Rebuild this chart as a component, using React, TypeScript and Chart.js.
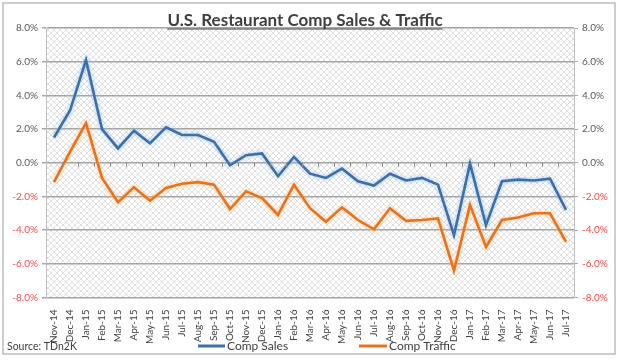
import React, { useEffect, useRef } from 'react';
import { Chart, registerables } from 'chart.js';
Chart.register(...registerables);

const categories = [
  'Nov-14', 'Dec-14', 'Jan-15', 'Feb-15', 'Mar-15', 'Apr-15', 'May-15', 'Jun-15', 'Jul-15', 'Aug-15', 'Sep-15', 'Oct-15', 'Nov-15', 'Dec-15',
  'Jan-16', 'Feb-16', 'Mar-16', 'Apr-16', 'May-16', 'Jun-16', 'Jul-16', 'Aug-16', 'Sep-16', 'Oct-16', 'Nov-16', 'Dec-16',
  'Jan-17', 'Feb-17', 'Mar-17', 'Apr-17', 'May-17', 'Jun-17', 'Jul-17',
];
const compSales = [
  1.5, 3.1, 6.1, 2.0, 0.85, 1.9, 1.15, 2.1, 1.65, 1.65, 1.25, -0.15, 0.45, 0.55,
  -0.8, 0.35, -0.65, -0.9, -0.35, -1.1, -1.35, -0.65, -1.05, -0.9, -1.3, -4.3,
  -0.05, -3.7, -1.1, -1.0, -1.05, -0.95, -2.8,
];
const compTraffic = [
  -1.15, 0.65, 2.35, -0.9, -2.35, -1.45, -2.25, -1.5, -1.25, -1.15, -1.3, -2.75, -1.7, -2.1,
  -3.1, -1.3, -2.7, -3.5, -2.65, -3.4, -3.95, -2.7, -3.45, -3.4, -3.3, -6.4,
  -2.5, -5.0, -3.4, -3.25, -3.0, -3.0, -4.7,
];
const yMin = -8;
const yMax = 8;
const yStep = 2;
const seriesNames = ['Comp Sales', 'Comp Traffic'];
const titleText = 'U.S. Restaurant Comp Sales & Traffic';
const sourceText = 'Source: TDn2K';

const BLUE = '#3f6faa';
const ORANGE = '#e8731e';
const GLOWS = ['rgba(140,185,235,0.9)', 'rgba(250,190,130,0.9)'];
const FONT = 'Lato, "Open Sans", sans-serif';

function makePattern(ctx: CanvasRenderingContext2D) {
  const c = document.createElement('canvas');
  c.width = 6;
  c.height = 6;
  const p = c.getContext('2d')!;
  p.fillStyle = '#ffffff';
  p.fillRect(0, 0, 6, 6);
  p.strokeStyle = '#e0e0e0';
  p.lineWidth = 1;
  p.beginPath();
  p.moveTo(0, 0); p.lineTo(6, 6);
  p.moveTo(6, 0); p.lineTo(0, 6);
  p.stroke();
  return ctx.createPattern(c, 'repeat');
}

const decorPlugin = {
  id: 'decor',
  beforeDraw(chart: any) {
    const { ctx, chartArea } = chart;
    ctx.save();
    ctx.fillStyle = '#ffffff';
    ctx.fillRect(0, 0, chart.width, chart.height);
    ctx.strokeStyle = '#bdbdbd';
    ctx.lineWidth = 1.5;
    ctx.strokeRect(3, 3, 612, 351);
    const pat = makePattern(ctx);
    if (pat) {
      ctx.fillStyle = pat;
      ctx.fillRect(chartArea.left, chartArea.top, chartArea.right - chartArea.left, chartArea.bottom - chartArea.top);
    }
    ctx.restore();
  },
  beforeDatasetDraw(chart: any, args: any) {
    const ctx = chart.ctx;
    ctx.save();
    ctx.shadowColor = GLOWS[args.index] || 'transparent';
    ctx.shadowBlur = 4;
    ctx.shadowOffsetX = 0;
    ctx.shadowOffsetY = 0;
  },
  afterDatasetDraw(chart: any) {
    chart.ctx.restore();
  },
  afterDraw(chart: any) {
    const { ctx, scales } = chart;
    const xs = scales.x;
    const ys = scales.y;
    const y0 = ys.getPixelForValue(0);
    ctx.save();
    // category tick marks on the zero line
    ctx.strokeStyle = '#8c8c8c';
    ctx.lineWidth = 1;
    const n = categories.length;
    const w = (xs.right - xs.left) / n;
    ctx.beginPath();
    for (let i = 1; i < n; i++) {
      const x = Math.round(xs.left + i * w) + 0.5;
      ctx.moveTo(x, y0);
      ctx.lineTo(x, y0 + 4);
    }
    ctx.stroke();

    // title
    ctx.fillStyle = '#404040';
    ctx.font = 'bold 17px ' + FONT;
    ctx.textAlign = 'center';
    ctx.textBaseline = 'alphabetic';
    const cx = 305;
    ctx.fillText(titleText, cx, 26);
    const tw = ctx.measureText(titleText).width;
    ctx.strokeStyle = '#404040';
    ctx.lineWidth = 1.2;
    ctx.beginPath();
    ctx.moveTo(cx - tw / 2, 29);
    ctx.lineTo(cx + tw / 2, 29);
    ctx.stroke();

    // legend
    const ly = 346;
    const items = [
      { x1: 198, x2: 225, color: BLUE, text: seriesNames[0] },
      { x1: 359, x2: 387, color: ORANGE, text: seriesNames[1] },
    ];
    ctx.font = '12px ' + FONT;
    ctx.textAlign = 'left';
    ctx.textBaseline = 'middle';
    items.forEach((it) => {
      ctx.strokeStyle = it.color;
      ctx.lineWidth = 3;
      ctx.beginPath();
      ctx.moveTo(it.x1, ly);
      ctx.lineTo(it.x2, ly);
      ctx.stroke();
      ctx.fillStyle = '#404040';
      ctx.fillText(it.text, it.x2 + 2, ly);
    });

    // source
    ctx.font = '10.5px ' + FONT;
    ctx.fillStyle = '#404040';
    ctx.fillText(sourceText, 7, 347);
    ctx.restore();
  },
};

const tickColor = (c: any) => (c.tick && c.tick.value < 0 ? '#ef4a4a' : '#595959');
const fmt = (v: any) => Number(v).toFixed(1) + '%';

export default function App() {
  const ref = useRef<HTMLCanvasElement>(null);
  useEffect(() => {
    document.body.style.margin = '0';
    const canvas = ref.current!;
    const chart = new Chart(canvas, {
      type: 'line',
      data: {
        labels: categories,
        datasets: [
          { label: seriesNames[0], data: compSales, borderColor: BLUE, borderWidth: 2.6, pointRadius: 0, tension: 0, yAxisID: 'y' },
          { label: seriesNames[1], data: compTraffic, borderColor: ORANGE, borderWidth: 2.6, pointRadius: 0, tension: 0, yAxisID: 'y' },
        ],
      },
      options: {
        responsive: false,
        animation: false,
        layout: { padding: { top: 28, left: 0, right: 0, bottom: 0 } },
        plugins: { legend: { display: false }, tooltip: { enabled: false }, title: { display: false } },
        scales: {
          x: {
            type: 'category',
            offset: true,
            grid: { display: false },
            border: { display: false },
            ticks: {
              autoSkip: false,
              minRotation: 90,
              maxRotation: 90,
              padding: 4,
              color: '#404040',
              font: { family: FONT, size: 10 },
            },
            afterFit: (s: any) => { s.height = 62.5; },
          },
          y: {
            position: 'left',
            min: yMin,
            max: yMax,
            ticks: { stepSize: yStep, callback: fmt, color: tickColor, font: { family: FONT, size: 10 }, padding: 4 },
            grid: { color: '#a6a6a6', lineWidth: 1.5, tickLength: 4 },
            border: { color: '#bfbfbf', width: 1 },
            afterFit: (s: any) => { s.width = 46; },
          },
          y2: {
            position: 'right',
            min: yMin,
            max: yMax,
            ticks: { stepSize: yStep, callback: fmt, color: tickColor, font: { family: FONT, size: 10 }, padding: 4 },
            grid: { drawOnChartArea: false, color: '#a6a6a6', tickLength: 4 },
            border: { color: '#bfbfbf', width: 1 },
            afterFit: (s: any) => { s.width = 45; },
          },
        },
      },
      plugins: [decorPlugin],
    });
    return () => chart.destroy();
  }, []);
  return (
    <div style={{ width: 619, height: 360 }}>
      <canvas ref={ref} width={619} height={360} style={{ display: 'block' }} />
    </div>
  );
}
